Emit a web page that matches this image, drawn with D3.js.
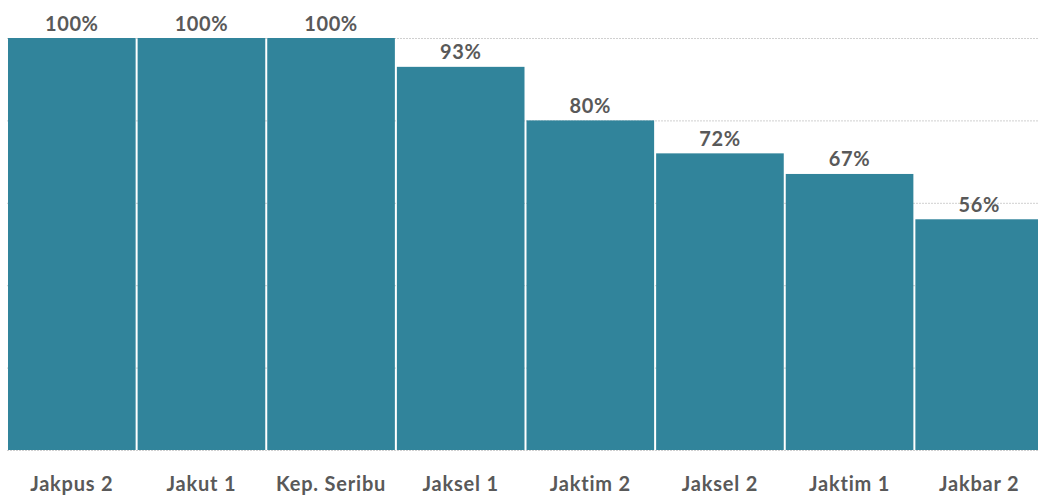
<!DOCTYPE html>
<html><head><meta charset="utf-8">
<script src="https://cdn.jsdelivr.net/npm/d3@7"></script>
<style>body{margin:0;background:#fff;}svg{display:block;}</style>
</head><body>
<svg id="c" width="1038" height="498"></svg>
<script>
const categories = ["Jakpus 2","Jakut 1","Kep. Seribu","Jaksel 1","Jaktim 2","Jaksel 2","Jaktim 1","Jakbar 2"];
const values = [100,100,100,93,80,72,67,56];
const gridTicks = [0,20,40,60,80,100];

const svg = d3.select("#c");
const x = d3.scaleBand().domain(categories).range([7,1044]).padding(0);
const y = d3.scaleLinear().domain([0,100]).range([450,38]);
const font = "Lato, 'Open Sans', sans-serif";

svg.append("g").selectAll("line").data(gridTicks).join("line")
  .attr("x1",7).attr("x2",1038)
  .attr("y1",d=>y(d)+0.5).attr("y2",d=>y(d)+0.5)
  .attr("stroke","#d0d0d0").attr("stroke-width",1).attr("stroke-dasharray","2,1");

svg.append("g").selectAll("rect").data(values).join("rect")
  .attr("x",(d,i)=>x(categories[i])+1)
  .attr("width",x.bandwidth()-2)
  .attr("y",d=>y(d))
  .attr("height",d=>y(0)-y(d))
  .attr("fill","#31849b");

svg.append("g").selectAll("text").data(values).join("text")
  .attr("x",(d,i)=>x(categories[i])+x.bandwidth()/2)
  .attr("y",d=>y(d)-7.5)
  .attr("text-anchor","middle")
  .attr("font-family",font).attr("font-weight","bold").attr("font-size",20)
  .attr("letter-spacing","0.6px")
  .attr("fill","#595959")
  .text(d=>d+"%");

svg.append("g").selectAll("text").data(categories).join("text")
  .attr("x",d=>x(d)+x.bandwidth()/2)
  .attr("y",491)
  .attr("text-anchor","middle")
  .attr("font-family",font).attr("font-weight","bold").attr("font-size",20)
  .attr("letter-spacing","0.8px")
  .attr("fill","#595959")
  .text(d=>d);
</script>
</body></html>
